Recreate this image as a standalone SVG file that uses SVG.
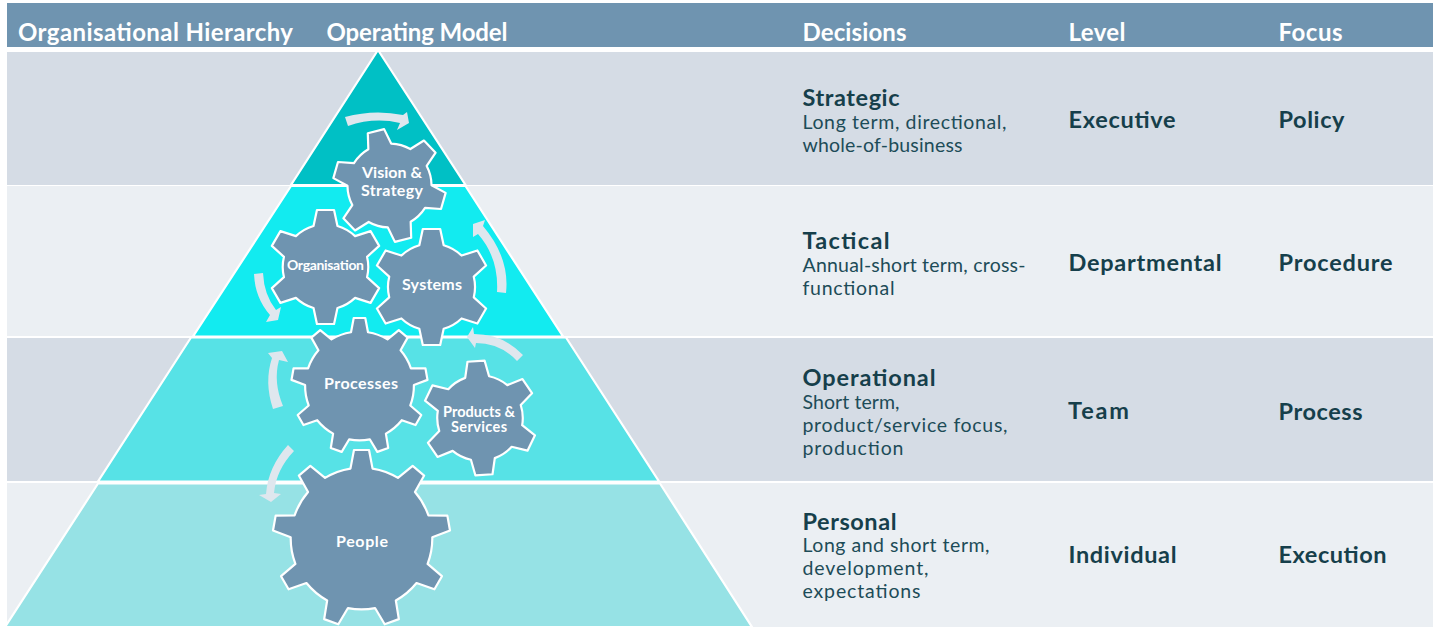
<svg xmlns="http://www.w3.org/2000/svg" width="1437" height="627" viewBox="0 0 1437 627">
<style>
text{font-family:"Lato","Liberation Sans",sans-serif}
.h{font-size:24px;font-weight:700;fill:#fff}
.t{font-size:23.5px;font-weight:700;fill:#163f4b}
.b{font-size:19.5px;fill:#1d4c58}
.g{font-weight:700;fill:#fff}
.ar{fill:#dfe7ee}
.gear{fill:#6f94b0;stroke:#fff;stroke-width:2.2;vector-effect:non-scaling-stroke;stroke-linejoin:round}
.tier{stroke:#fff;stroke-width:2.2}
</style>
<defs>
<path id="g6" class="gear" d="M-.21-.72L-.15-1L.15-1L.21-.72A.75.75 0 0 1 .519-.542L.791-.63L.941-.37L.729-.178A.75.75 0 0 1 .729.178L.941.37L.791.63L.519.542A.75.75 0 0 1 .21.72L.15 1L-.15 1L-.21.72A.75.75 0 0 1 -.519.542L-.791.63L-.941.37L-.729.178A.75.75 0 0 1 -.729-.178L-.941-.37L-.791-.63L-.519-.542A.75.75 0 0 1 -.21-.72Z"/>
<path id="g9" class="gear" d="M-.125-.79L-.085-1L.085-1L.125-.79A.8.8 0 0 1 .412-.685L.578-.821L.708-.711L.604-.525A.8.8 0 0 1 .756-.26L.97-.258L1-.09L.8-.014A.8.8 0 0 1 .747.287L.909.426L.824.574L.622.503A.8.8 0 0 1 .388.7L.422.911L.262.969L.153.786A.8.8 0 0 1 -.153.786L-.262.969L-.422.911L-.388.7A.8.8 0 0 1 -.622.503L-.824.574L-.909.426L-.747.287A.8.8 0 0 1 -.8-.014L-1-.09L-.97-.258L-.756-.26A.8.8 0 0 1 -.604-.525L-.708-.711L-.578-.821L-.412-.685A.8.8 0 0 1 -.125-.79Z"/>
</defs>
<rect id="header-band" x="7" y="3" width="1426" height="44" fill="#6f94b0"/>
<g id="bands">
<rect x="7" y="52" width="1426" height="133" fill="#d5dce5"/>
<rect x="7" y="186" width="1426" height="150" fill="#ebeff3"/>
<rect x="7" y="338" width="1426" height="143" fill="#d5dce5"/>
<rect x="7" y="483" width="1426" height="144" fill="#ebeff3"/>
</g>
<g id="pyramid">
<polygon class="tier" fill="#00c0c5" points="378,50 465.500,185 291,185"/>
<polygon class="tier" fill="#12ebf0" points="291,186 465.500,186 563,336.500 193,336.500"/>
<polygon class="tier" fill="#57e2e6" points="191,337.500 566,337.500 659,481.500 98,481.500"/>
<polygon class="tier" fill="#96e2e5" points="98,483.500 660,483.500 752,627 5,627"/>
</g>
<g id="connectors">
<path class="ar" d="M345,117Q374,109 403,115L407,112L409,123L397,130L400,123Q374,117 348,126Z"/>
<path class="ar" d="M497,292Q499,258 478,234L473,237L473,224L485,220L483,226Q510,258 506,293Z"/>
<path class="ar" d="M254,274Q255,298 270,315L266,322L278,320L281,307L276,310Q264,295 263,273Z"/>
<path class="ar" d="M273,409Q264,382 272,358L268,353L282,351L288,362L279,360Q273,382 283,406Z"/>
<path class="ar" d="M523,355Q503,334 474,334L473,327L467,337L475,348L476,343Q500,343 517,361Z"/>
<path class="ar" d="M288,445Q268,467 266,494L259,495L271,502L281,494L274,493Q276,470 294,451Z"/>
</g>
<g id="node-vision">
<use href="#g6" transform="translate(389.500,185.500) rotate(-14) scale(56)"/>
<text class="g" font-size="16" x="362" y="178" textLength="60">Vision &amp;</text>
<text class="g" font-size="16" x="361" y="196" textLength="62">Strategy</text>
</g>
<g id="node-organisation">
<use href="#g6" transform="translate(325.500,267) scale(57)"/>
<text class="g" font-size="14" x="287" y="270" textLength="77">Organisation</text>
</g>
<g id="node-systems">
<use href="#g6" transform="translate(431.500,287) scale(58)"/>
<text class="g" font-size="16" x="402" y="290" textLength="60">Systems</text>
</g>
<g id="node-processes">
<use href="#g9" transform="translate(359.500,386) scale(68)"/>
<text class="g" font-size="16" x="324" y="389" textLength="74">Processes</text>
</g>
<g id="node-products">
<use href="#g6" transform="translate(480,418) rotate(-4) scale(57)"/>
<text class="g" font-size="14.500" x="443" y="417" textLength="72">Products &amp;</text>
<text class="g" font-size="14.500" x="451" y="432" textLength="56">Services</text>
</g>
<g id="node-people">
<use href="#g9" transform="translate(361.500,538.500) scale(88.500)"/>
<text class="g" font-size="16" x="336" y="547" textLength="52">People</text>
</g>
<g id="header-labels">
<text class="h" x="18" y="40.500" textLength="275">Organisational Hierarchy</text>
<text class="h" x="326.500" y="40.500" textLength="181">Operating Model</text>
<text class="h" x="802.500" y="40.500" textLength="104">Decisions</text>
<text class="h" x="1068.500" y="40.500" textLength="57">Level</text>
<text class="h" x="1278.500" y="40.500" textLength="64">Focus</text>
</g>
<g id="row-strategic">
<text class="t" x="802.500" y="106" textLength="97">Strategic</text>
<text class="b" x="802.500" y="129" textLength="204">Long term, directional,</text>
<text class="b" x="802.500" y="152" textLength="160">whole-of-business</text>
<text class="t" x="1068.500" y="127.500" textLength="107">Executive</text>
<text class="t" x="1278.500" y="127.500" textLength="66">Policy</text>
</g>
<g id="row-tactical">
<text class="t" x="802.500" y="249" textLength="87">Tactical</text>
<text class="b" x="802.500" y="272" textLength="223">Annual-short term, cross-</text>
<text class="b" x="802.500" y="295" textLength="92">functional</text>
<text class="t" x="1068.500" y="270.500" textLength="153">Departmental</text>
<text class="t" x="1278.500" y="270.500" textLength="114">Procedure</text>
</g>
<g id="row-operational">
<text class="t" x="802.500" y="386" textLength="133">Operational</text>
<text class="b" x="802.500" y="409" textLength="97">Short term,</text>
<text class="b" x="802.500" y="432" textLength="205">product/service focus,</text>
<text class="b" x="802.500" y="455" textLength="101">production</text>
<text class="t" x="1068" y="418.500" textLength="61">Team</text>
<text class="t" x="1278.500" y="419.500" textLength="84">Process</text>
</g>
<g id="row-personal">
<text class="t" x="802.500" y="530" textLength="94">Personal</text>
<text class="b" x="802.500" y="552" textLength="187">Long and short term,</text>
<text class="b" x="802.500" y="575" textLength="126">development,</text>
<text class="b" x="802.500" y="598" textLength="118">expectations</text>
<text class="t" x="1068.500" y="562.500" textLength="108">Individual</text>
<text class="t" x="1278.500" y="562.500" textLength="108">Execution</text>
</g>
</svg>
